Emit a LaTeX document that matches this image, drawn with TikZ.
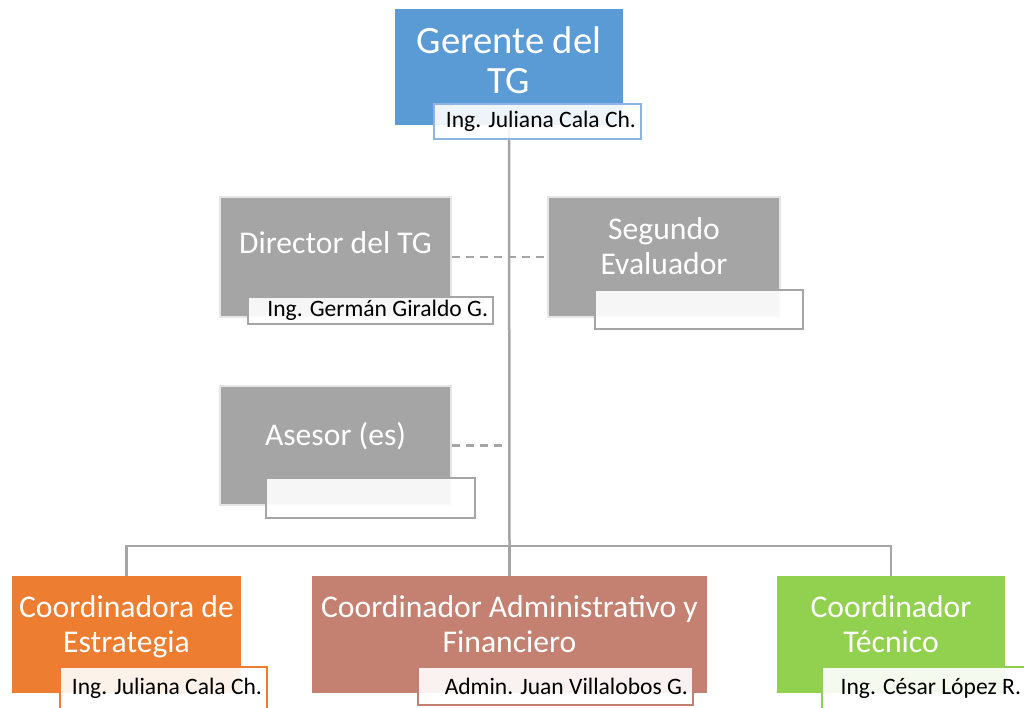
\documentclass[tikz,border=0pt]{standalone}
\usepackage{fontspec}
\setmainfont{Carlito}
\definecolor{tgblue}{HTML}{5B9BD5}
\definecolor{tgnameblue}{HTML}{8DB4E2}
\definecolor{tggray}{HTML}{A5A5A5}
\definecolor{tgedge}{HTML}{E6E6E6}
\definecolor{tgorange}{HTML}{ED7D31}
\definecolor{tgbrown}{HTML}{C48070}
\definecolor{tggreen}{HTML}{92D050}

\begin{document}
\begin{tikzpicture}[
  x=0.02cm, y=-0.02cm,
  box/.style={rectangle,text=white,align=center,inner sep=0pt,font=\fontsize{18}{19.8}\selectfont,text depth=0.45cm},
  gbox/.style={box,fill=tggray,draw=tgedge,line width=0.05cm,minimum width=4.62cm,minimum height=2.4cm},
  cbox/.style={box,minimum width=4.58cm,minimum height=2.34cm,text depth=0.42cm},
  namebox/.style={rectangle,fill=white,fill opacity=0.9,text opacity=1,line width=0.04cm,inner xsep=0.1cm,inner ysep=0pt,align=flush right,font=\fontsize{13.4}{15}\selectfont},
  link/.style={draw=tggray,line width=0.05cm},
  dlink/.style={link,dash pattern=on 0.16cm off 0.12cm}
]
  \useasboundingbox (0,0) rectangle (1024,707);
  \node[box,fill=tgblue,minimum width=4.56cm,minimum height=2.32cm,font=\fontsize{22}{22.7}\selectfont,text depth=0.26cm] (ger) at (509,67) {Gerente del\\TG};
  \node[gbox,text depth=0.56cm] (dir) at (335.5,257) {Director del TG};
  \node[gbox,minimum width=4.64cm] (seg) at (664,257) {Segundo\\Evaluador};
  \node[gbox,minimum height=2.38cm] (ase) at (335.5,445.5) {Asesor (es)};
  \node[cbox,fill=tgorange] (estr) at (126.5,634.5) {Coordinadora de\\Estrategia};
  \node[cbox,fill=tgbrown,minimum width=7.9cm] (admin) at (509.5,634.5) {Coordinador Administrativo y\\Financiero};
  \node[cbox,fill=tggreen,minimum width=4.56cm] (tecn) at (891,634.5) {Coordinador\\Técnico};
  \coordinate (bus) at (509.5,546);
  \draw[link] (ger.south) -- (bus);
  \draw[link] (estr.north) |- (bus) -| (tecn.north);
  \draw[link] (bus) -- (admin.north);
  \draw[dlink] (dir.east) -- (seg.west);
  \draw[dlink] (ase.east) -- (ase.east -| bus);
  \node[namebox,draw=tgnameblue,text width=3.94cm,minimum height=0.7cm] (gerN) at (537.5,121.5) {Ing. Juliana Cala Ch.};
  \node[namebox,draw=tggray,text width=4.7cm,minimum height=0.54cm] (dirN) at (370.5,310.5) {Ing. Germán Giraldo G.};
  \node[namebox,draw=tggray,text width=3.96cm,minimum height=0.78cm] (segN) at (699,309.5) {};
  \node[namebox,draw=tggray,text width=3.98cm,minimum height=0.8cm] (aseN) at (370.5,498) {};
  \node[namebox,draw=tgorange,text width=3.94cm,minimum height=0.84cm] (estrN) at (163.5,688) {Ing. Juliana Cala Ch.};
  \node[namebox,draw=tgbrown,text width=5.3cm,minimum height=0.76cm] (adminN) at (555.5,686) {Admin. Juan Villalobos G.};
  \node[namebox,draw=tggreen,text width=3.88cm,minimum height=0.84cm] (tecnN) at (924,688) {Ing. César López R.};
\end{tikzpicture}
\end{document}
